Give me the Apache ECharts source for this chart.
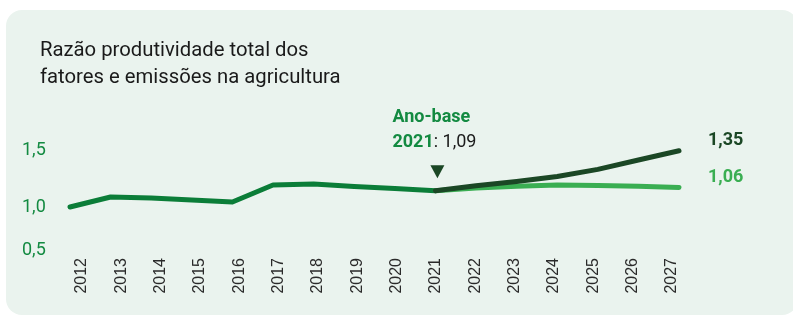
<!DOCTYPE html>
<html>
<head>
<meta charset="utf-8">
<script src="https://cdn.jsdelivr.net/npm/echarts@6/dist/echarts.min.js"></script>
<style>
  html, body { margin: 0; padding: 0; background: #fff; }
  #card { position: absolute; left: 6px; top: 10px; width: 792px; height: 305px; background: #eaf3ee; border-radius: 16px; }
  #chart { position: absolute; left: 0; top: 0; width: 793px; height: 317px; }
</style>
</head>
<body>
<div id="card"></div>
<div id="chart"></div>
<script>
const years = ['2012', '2013', '2014', '2015', '2016', '2017', '2018', '2019', '2020', '2021',
  '2022', '2023', '2024', '2025', '2026', '2027']
// historico ate o ano-base
const historico = [0.93, 1.03, 1.02, 1.0, 0.98, 1.15, 1.16, 1.135, 1.115, 1.093,
  null, null, null, null, null, null]
// projecoes a partir de 2021
const projAlta = [null, null, null, null, null, null, null, null, null, 1.093,
  1.142, 1.185, 1.235, 1.306, 1.40, 1.493]
const projBaixa = [null, null, null, null, null, null, null, null, null, 1.093,
  1.12, 1.137, 1.15, 1.145, 1.137, 1.125]
const yTicks = ['0,5', '1,0', '1,5']
const endLabels = ['1,35', '1,06']
const anoBase = { ano: '2021', valor: '1,09' }

const font = 'Roboto'
const chart = echarts.init(document.getElementById('chart'))

chart.setOption({
  animation: false,
  textStyle: { fontFamily: font },
  title: {
    text: 'Razão produtividade total dos\nfatores e emissões na agricultura',
    left: 40,
    top: 37,
    padding: 0,
    textStyle: { fontSize: 20.3, fontWeight: 'normal', color: '#1a1a1a', lineHeight: 27, fontFamily: font },
  },
  grid: [
    { left: 70, right: 114, top: 150, bottom: 67 },
    { left: 82, right: 121, top: 150, bottom: 67 },
  ],
  xAxis: [
    {
      type: 'category', gridIndex: 0, data: years, boundaryGap: false,
      axisLine: { show: false }, axisTick: { show: false }, axisLabel: { show: false },
      splitLine: { show: false },
    },
    {
      type: 'category', gridIndex: 1, data: years, boundaryGap: false,
      axisLine: { show: false }, axisTick: { show: false }, splitLine: { show: false },
      axisLabel: {
        rotate: 90, margin: 8, fontSize: 16, color: '#2a2a2a',
        fontFamily: '"Liberation Sans Narrow", "Arial Narrow", sans-serif',
      },
    },
  ],
  yAxis: [
    {
      type: 'value', gridIndex: 0, min: 0.5, max: 1.5, interval: 0.5,
      axisLine: { show: false }, axisTick: { show: false }, splitLine: { show: false },
      axisLabel: {
        align: 'left', margin: 48, fontSize: 18, color: '#138a41', fontFamily: font,
        formatter: (v) => {
          const i = Math.round((v - 0.5) / 0.5)
          return i === 1 ? '{d|' + yTicks[i] + '}' : yTicks[i]
        },
        rich: { d: { fontSize: 18, color: '#138a41', fontFamily: font, padding: [14, 0, 0, 0] } },
      },
    },
    {
      type: 'value', gridIndex: 1, min: 0, max: 1, show: false,
    },
  ],
  series: [
    {
      name: 'Histórico', type: 'line', data: historico, symbol: 'none',
      lineStyle: { width: 5, color: '#0b7d38', cap: 'round', join: 'round' },
      z: 2,
      markPoint: {
        silent: true,
        data: [{
          coord: [anoBase.ano, historico[9]],
          symbol: 'triangle', symbolRotate: 180, symbolSize: [14, 13], symbolOffset: [2, -19],
          itemStyle: { color: '#1b4725' },
          label: {
            show: true, position: 'inside', offset: [-45, -42], align: 'left', verticalAlign: 'middle',
            formatter: '{b|Ano-base}\n{b|' + anoBase.ano + '}{n|: ' + anoBase.valor + '}',
            rich: {
              b: { fontSize: 18, fontWeight: 'bold', color: '#138a41', lineHeight: 25, fontFamily: font },
              n: { fontSize: 18, color: '#1a1a1a', lineHeight: 25, fontFamily: font },
            },
          },
        }],
      },
    },
    {
      name: 'Projeção baixa', type: 'line', data: projBaixa, symbol: 'none',
      lineStyle: { width: 5, color: '#3aae52', cap: 'round', join: 'round' },
      z: 3,
      endLabel: {
        show: true, formatter: endLabels[1], distance: 29, offset: [0, -10],
        fontSize: 18, fontWeight: 'bold', color: '#3aae52', fontFamily: font,
      },
    },
    {
      name: 'Projeção alta', type: 'line', data: projAlta, symbol: 'none',
      lineStyle: { width: 5, color: '#1b4725', cap: 'round', join: 'round' },
      z: 4,
      endLabel: {
        show: true, formatter: endLabels[0], distance: 29, offset: [0, -10],
        fontSize: 18, fontWeight: 'bold', color: '#1b4725', fontFamily: font,
      },
    },
  ],
})
</script>
</body>
</html>
